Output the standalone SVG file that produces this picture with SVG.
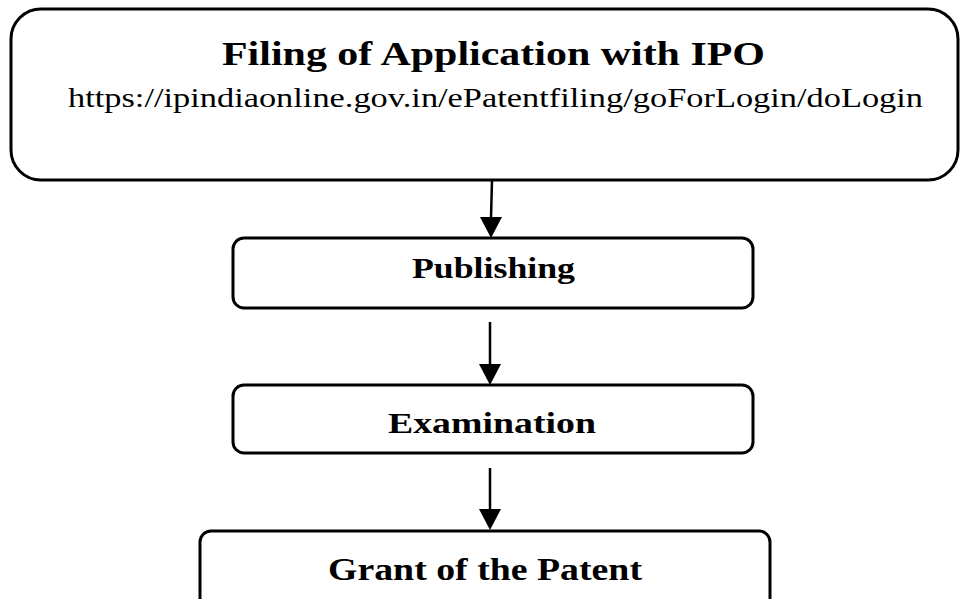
<svg xmlns="http://www.w3.org/2000/svg" width="960" height="599" viewBox="0 0 960 599">
  <defs>
    <style>
      .box { fill: #fff; stroke: #000; stroke-width: 3; }
      .title { font-family: "Liberation Serif", "Times New Roman", serif; font-weight: bold; fill: #000; }
      .url { font-family: "Liberation Serif", "Times New Roman", serif; fill: #000; }
      .conn { stroke: #000; stroke-width: 2.5; fill: none; }
      .head { fill: #000; }
    </style>
  </defs>
  <rect width="960" height="599" fill="#fff"/>

  <g id="filing">
    <rect class="box" x="11" y="9" width="947" height="171" rx="30" ry="30"/>
    <text class="title" x="222" y="65" font-size="33" textLength="543" lengthAdjust="spacingAndGlyphs">Filing of Application with IPO</text>
    <text class="url" x="68" y="107" font-size="27" textLength="855" lengthAdjust="spacingAndGlyphs">https://ipindiaonline.gov.in/ePatentfiling/goForLogin/doLogin</text>
  </g>

  <g id="publishing">
    <rect class="box" x="233" y="238" width="520" height="70" rx="11" ry="11"/>
    <text class="title" x="412" y="278" font-size="29" textLength="163" lengthAdjust="spacingAndGlyphs">Publishing</text>
  </g>

  <g id="examination">
    <rect class="box" x="233" y="385" width="520" height="68" rx="11" ry="11"/>
    <text class="title" x="388" y="433" font-size="29" textLength="208" lengthAdjust="spacingAndGlyphs">Examination</text>
  </g>

  <g id="grant">
    <rect class="box" x="200" y="531" width="570" height="90" rx="11" ry="11"/>
    <text class="title" x="328" y="580" font-size="31" textLength="314" lengthAdjust="spacingAndGlyphs">Grant of the Patent</text>
  </g>

  <g id="connectors">
    <line class="conn" x1="492" y1="180" x2="491" y2="218"/>
    <polygon class="head" points="480,217 502,217 491,238"/>
    <line class="conn" x1="490" y1="322" x2="490" y2="365"/>
    <polygon class="head" points="479,364 501,364 490,385"/>
    <line class="conn" x1="490" y1="468" x2="490" y2="510"/>
    <polygon class="head" points="479,509 501,509 490,530"/>
  </g>
</svg>
